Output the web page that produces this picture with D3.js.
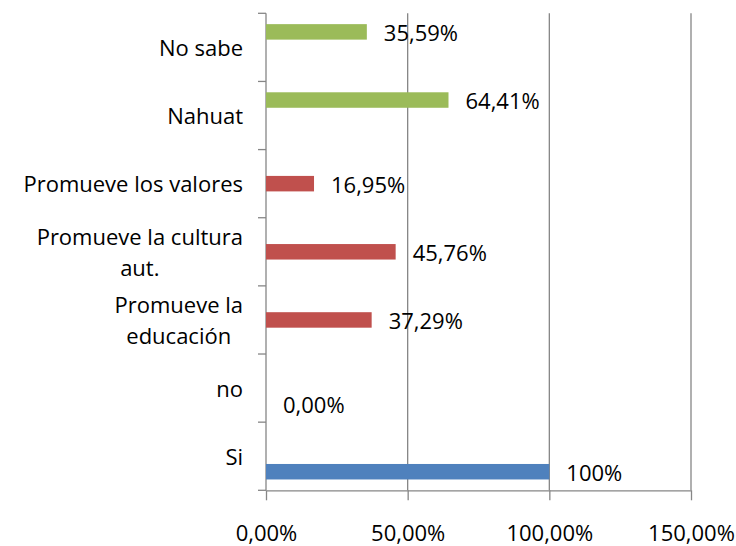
<!DOCTYPE html>
<html>
<head>
<meta charset="utf-8">
<script src="https://cdn.jsdelivr.net/npm/d3@7"></script>
<style>
  html, body { margin: 0; padding: 0; background: #fff; }
  svg text { font-family: "Open Sans", Lato, sans-serif; fill: #000; }
</style>
</head>
<body>
<div id="chart"></div>
<script>
// categories, top to bottom
const categories = ['No sabe', 'Nahuat', 'Promueve los valores', 'Promueve la cultura aut.', 'Promueve la educación', 'no', 'Si'];
// label lines for the y axis
const categoryLines = [['No sabe'], ['Nahuat'], ['Promueve los valores'], ['Promueve la cultura', 'aut.'], ['Promueve la', 'educación'], ['no'], ['Si']];

// series values (null = no bar in that category)
const blueValues  = [null, null, null, null, null, 0, 100];
const redValues   = [null, null, 16.95, 45.76, 37.29, null, null];
const greenValues = [35.59, 64.41, null, null, null, null, null];

const blueLabels  = [null, null, null, null, null, '0,00%', '100%'];
const redLabels   = [null, null, '16,95%', '45,76%', '37,29%', null, null];
const greenLabels = ['35,59%', '64,41%', null, null, null, null, null];

const xTicks = [0, 50, 100, 150];

const series = [
  { key: 'green', color: '#9BBB59', values: greenValues, labels: greenLabels },
  { key: 'red',   color: '#C0504D', values: redValues,   labels: redLabels },
  { key: 'blue',  color: '#4F81BD', values: blueValues,  labels: blueLabels }
];

const width = 736, height = 546;
const plot = { left: 266, right: 691, top: 13.3, bottom: 490.3 };
const gridColor = '#868686';
const fontSize = 22;

const svg = d3.select('#chart').append('svg')
  .attr('width', width)
  .attr('height', height);

const x = d3.scaleLinear().domain([0, 150]).range([plot.left, plot.right]);
const y = d3.scaleBand().domain(categories).range([plot.top, plot.bottom]);
const inner = d3.scaleBand().domain(series.map(s => s.key))
  .range([0, y.bandwidth()]).paddingOuter(0.7);

const comma = d3.formatLocale({ decimal: ',', thousands: '.', grouping: [3], currency: ['', '€'] });
const fmt = comma.format('.2f');

// Vertical gridlines
svg.append('g')
  .selectAll('line')
  .data(xTicks.filter(d => d > 0))
  .enter().append('line')
  .attr('x1', d => x(d)).attr('x2', d => x(d))
  .attr('y1', plot.top).attr('y2', plot.bottom)
  .attr('stroke', gridColor).attr('stroke-width', 1.3);

// X axis
const xAxis = svg.append('g')
  .attr('transform', `translate(0,${plot.bottom})`)
  .call(d3.axisBottom(x).tickValues(xTicks).tickSize(10).tickSizeOuter(0).tickPadding(25)
    .tickFormat(d => fmt(d) + '%'));
xAxis.select('.domain').attr('stroke', gridColor).attr('stroke-width', 1.3);
xAxis.selectAll('line').attr('stroke', gridColor).attr('stroke-width', 1.3);
xAxis.selectAll('text').attr('font-size', fontSize).style('font-family', '"Open Sans", sans-serif');

// Y axis line and ticks at category boundaries
const boundaries = categories.map(c => y(c)).concat([plot.bottom]);
svg.append('line')
  .attr('x1', plot.left).attr('x2', plot.left)
  .attr('y1', plot.top).attr('y2', plot.bottom)
  .attr('stroke', gridColor).attr('stroke-width', 1.3);
svg.append('g').selectAll('line')
  .data(boundaries)
  .enter().append('line')
  .attr('x1', plot.left - 8).attr('x2', plot.left)
  .attr('y1', d => d).attr('y2', d => d)
  .attr('stroke', gridColor).attr('stroke-width', 1.3);

// Category labels: centered block, right aligned
const labelRight = 243;
const lineHeight = 31;
categories.forEach((c, i) => {
  const lines = categoryLines[i];
  const cy = y(c) + y.bandwidth() / 2;
  const g = svg.append('g');
  const texts = lines.map((ln, j) => g.append('text')
    .attr('font-size', fontSize)
    .attr('text-anchor', 'middle')
    .attr('y', cy + (j - (lines.length - 1) / 2) * lineHeight + 8.5)
    .text(ln));
  const maxW = d3.max(texts, t => t.node().getComputedTextLength());
  texts.forEach(t => t.attr('x', labelRight - maxW / 2));
});

// Bars and value labels
series.forEach(s => {
  const pts = categories.map((c, i) => ({ c, v: s.values[i], label: s.labels[i] }))
    .filter(d => d.v !== null);
  svg.append('g').selectAll('rect')
    .data(pts)
    .enter().append('rect')
    .attr('x', x(0))
    .attr('y', d => y(d.c) + inner(s.key))
    .attr('width', d => x(d.v) - x(0))
    .attr('height', inner.bandwidth())
    .attr('fill', s.color);
  svg.append('g').selectAll('text')
    .data(pts)
    .enter().append('text')
    .attr('x', d => x(d.v) + 17)
    .attr('y', d => y(d.c) + inner(s.key) + inner.bandwidth() / 2 + 9)
    .attr('font-size', fontSize)
    .text(d => d.label);
});
</script>
</body>
</html>
